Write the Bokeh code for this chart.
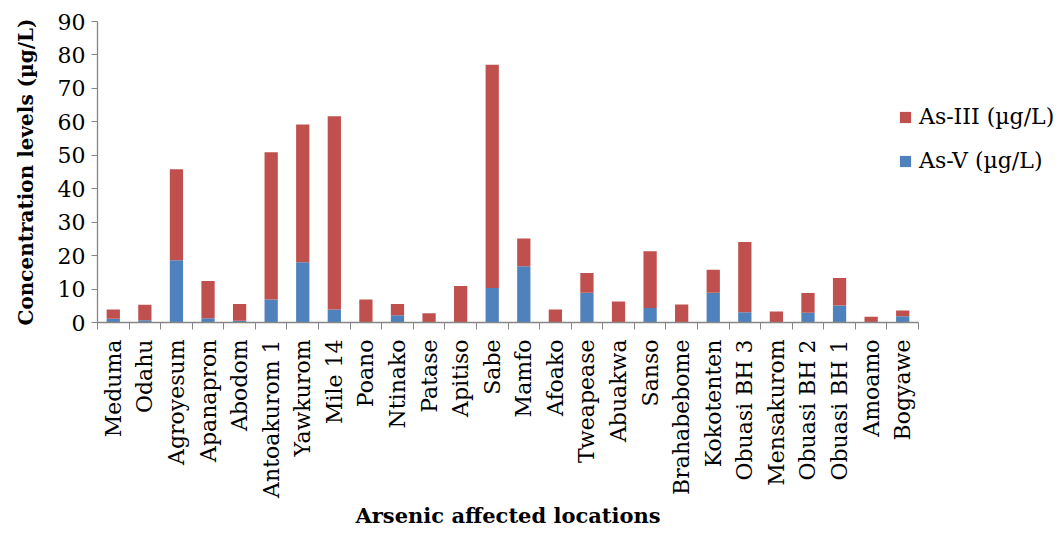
import math
from bokeh.plotting import figure
from bokeh.models import (ColumnDataSource, Range1d, FixedTicker, Legend, LegendItem, Title)
from bokeh.embed import file_html
from bokeh.resources import INLINE

locations = ["Meduma", "Odahu", "Agroyesum", "Apanapron", "Abodom", "Antoakurom 1",
             "Yawkurom", "Mile 14", "Poano", "Ntinako", "Patase", "Apitiso", "Sabe",
             "Mamfo", "Afoako", "Tweapease", "Abuakwa", "Sanso", "Brahabebome",
             "Kokotenten", "Obuasi BH 3", "Mensakurom", "Obuasi BH 2", "Obuasi BH 1",
             "Amoamo", "Bogyawe"]
as_v = [1.1, 0.7, 18.6, 1.3, 0.5, 6.9, 18.0, 3.9, 0.0, 2.2, 0.0, 0.0, 10.3,
        16.8, 0.0, 8.9, 0.0, 4.3, 0.0, 8.9, 3.1, 0.0, 2.9, 5.1, 0.0, 1.9]
as_iii = [2.8, 4.6, 27.2, 11.1, 5.0, 44.0, 41.2, 57.8, 6.9, 3.3, 2.8, 10.9, 66.8,
          8.3, 3.9, 5.9, 6.3, 17.0, 5.4, 6.9, 21.0, 3.3, 5.9, 8.2, 1.7, 1.7]
y_ticks = [0, 10, 20, 30, 40, 50, 60, 70, 80, 90]

RED = "#C0504D"
BLUE = "#4F81BD"
AXIS = "#868686"
FONT = "DejaVu Serif"

W, H = 1058, 533
LEFT, TOP, BOTTOM_Y = 97, 21, 322
CAT_PX = 821 / len(locations)

n = len(locations)
xpos = [i + 0.5 for i in range(n)]
source = ColumnDataSource(dict(x=xpos, asv=as_v, as3=as_iii))

x_end = (W - LEFT) / CAT_PX

p = figure(width=W, height=H, output_backend="svg", toolbar_location=None,
           x_range=Range1d(0, x_end), y_range=Range1d(0, 90),
           min_border_left=LEFT, min_border_right=0, min_border_top=TOP,
           min_border_bottom=H - BOTTOM_Y)
p.outline_line_color = None
p.xgrid.visible = False
p.ygrid.visible = False

rs = p.vbar_stack(["asv", "as3"], x="x", width=0.42, color=[BLUE, RED],
                  line_color=None, source=source)

# x axis
xa = p.xaxis[0]
xa.bounds = (0, n)
xa.ticker = FixedTicker(ticks=xpos, minor_ticks=list(range(n + 1)))
xa.major_label_overrides = {x: name for x, name in zip(xpos, locations)}
xa.major_label_orientation = math.pi / 2
xa.major_tick_line_color = None
xa.major_tick_out = 0
xa.major_tick_in = 0
xa.minor_tick_line_color = AXIS
xa.minor_tick_out = 7
xa.minor_tick_in = 0
xa.axis_line_color = AXIS
xa.axis_line_width = 1.3
xa.major_label_standoff = 10
xa.major_label_text_font = FONT
xa.major_label_text_font_size = "22px"
xa.major_label_text_color = "black"

xtitle = Title(text="Arsenic affected locations", align="left", offset=258,
               text_font=FONT, text_font_style="bold", text_font_size="21px",
               text_color="black", standoff=0)
p.add_layout(xtitle, "below")

# y axis
ya = p.yaxis[0]
ya.ticker = FixedTicker(ticks=y_ticks)
ya.minor_tick_line_color = None
ya.major_tick_out = 6
ya.major_tick_in = 0
ya.major_tick_line_color = AXIS
ya.axis_line_color = AXIS
ya.axis_line_width = 1.3
ya.major_label_standoff = 6
ya.major_label_text_font = FONT
ya.major_label_text_font_size = "22px"
ya.major_label_text_color = "black"
ya.axis_label = "Concentration levels (µg/L)"
ya.axis_label_text_font = FONT
ya.axis_label_text_font_style = "bold"
ya.axis_label_text_font_size = "20px"
ya.axis_label_text_color = "black"
ya.axis_label_standoff = 17

legend = Legend(items=[LegendItem(label="As-III (µg/L)", renderers=[rs[1]]),
                       LegendItem(label="As-V (µg/L)", renderers=[rs[0]])],
                location=(801, 149), orientation="vertical",
                glyph_width=14, glyph_height=14, label_standoff=7, spacing=19,
                padding=0, margin=0, border_line_color=None,
                background_fill_alpha=0,
                label_text_font=FONT, label_text_font_size="22px",
                label_text_color="black")
p.add_layout(legend, "center")

open("out.html", "w").write(file_html(p, INLINE))
